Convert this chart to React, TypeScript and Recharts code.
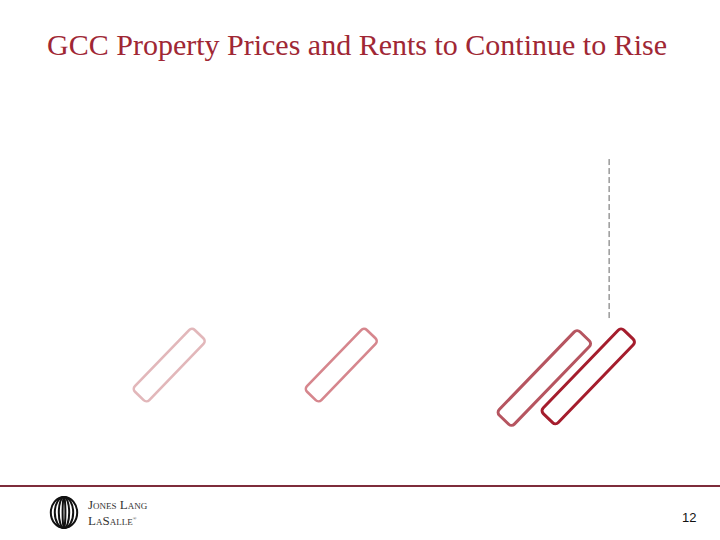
import { ScatterChart, Scatter, XAxis, YAxis, ReferenceLine } from "recharts";

// cycle position (0-100) and level (0-100) of each marker
const markerNames = ["m1", "m2", "m3", "m4"];
const markerPos = [23.5, 47.4, 75.6, 81.7];
const markerLevel = [32.4, 32.4, 30.0, 30.3];

// dashed "current" line
const nowPos = 84.6;
const nowRange = [41.1, 70.7];

const markerColors = ["#e2b7ba", "#d6868d", "#b65560", "#a51d2d"];
const markerLen = [86, 86, 116, 116];
const markerWid = [20, 20, 21, 21];
const markerStroke = [2.6, 2.6, 3, 3];

const data = markerNames.map((name, i) => ({
  name,
  x: markerPos[i],
  y: markerLevel[i],
  idx: i,
}));

const TiltedBox = (props: any) => {
  const { cx, cy, payload } = props;
  const i = payload.idx;
  const w = markerLen[i];
  const h = markerWid[i];
  return (
    <rect
      x={cx - w / 2}
      y={cy - h / 2}
      width={w}
      height={h}
      rx={4}
      ry={4}
      fill="none"
      stroke={markerColors[i]}
      strokeWidth={markerStroke[i]}
      transform={`rotate(-46 ${cx} ${cy})`}
    />
  );
};

const Logo = () => (
  <svg width={30} height={33} viewBox="0 0 30 33">
    {[13.2, 9.2, 5.2, 1.4].map((rx, k) => (
      <ellipse key={k} cx={15} cy={16.5} rx={rx} ry={15.5} fill="none" stroke="#111" strokeWidth={2} />
    ))}
  </svg>
);

export default function App() {
  return (
    <div style={{ position: "absolute", left: 0, top: 0, width: 720, height: 540, background: "#fff" }}>
      <div
        style={{
          position: "absolute",
          top: 28,
          left: 0,
          width: 714,
          textAlign: "center",
          fontFamily: "'Liberation Serif', 'Times New Roman', serif",
          fontSize: 30,
          lineHeight: "34px",
          color: "#a02734",
          whiteSpace: "nowrap",
        }}
      >
        GCC Property Prices and Rents to Continue to Rise
      </div>

      <div style={{ position: "absolute", left: 0, top: 0 }}>
        <ScatterChart width={720} height={540} margin={{ top: 0, right: 0, bottom: 0, left: 0 }}>
          <XAxis type="number" dataKey="x" domain={[0, 100]} hide />
          <YAxis type="number" dataKey="y" domain={[0, 100]} hide />
          <ReferenceLine
            segment={[
              { x: nowPos, y: nowRange[0] },
              { x: nowPos, y: nowRange[1] },
            ]}
            stroke="#666"
            strokeWidth={1}
            strokeDasharray="6 3"
          />
          <Scatter data={data} shape={TiltedBox} isAnimationActive={false} />
        </ScatterChart>
      </div>

      <div style={{ position: "absolute", left: 0, top: 485, width: 720, height: 2, background: "#7e2c3b" }} />

      <div style={{ position: "absolute", left: 49, top: 496 }}>
        <Logo />
      </div>
      <div
        style={{
          position: "absolute",
          left: 88,
          top: 498,
          fontFamily: "'Liberation Serif', 'Times New Roman', serif",
          fontSize: 13,
          lineHeight: "14px",
          color: "#333",
          fontVariant: "small-caps",
        }}
      >
        <div>Jones Lang</div>
        <div>LaSalle<sup style={{ fontSize: 5 }}>®</sup></div>
      </div>

      <div
        style={{
          position: "absolute",
          left: 682,
          top: 510,
          fontFamily: "'Liberation Sans', Arial, sans-serif",
          fontSize: 13,
          color: "#111",
        }}
      >
        12
      </div>
    </div>
  );
}
